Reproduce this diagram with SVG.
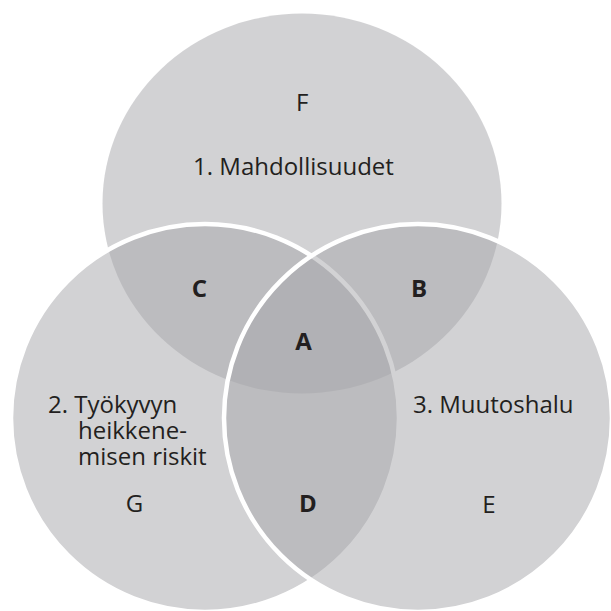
<svg xmlns="http://www.w3.org/2000/svg" width="611" height="611" viewBox="0 0 611 611">
  <style>
    .set { fill: #a6a6aa; fill-opacity: 0.51; }
    .edge { stroke: #ffffff; stroke-width: 4.5; }
    .lbl { font-family: "Open Sans", "Liberation Sans", sans-serif; font-size: 24px; fill: #231f20; }
    .reg { font-family: "Open Sans", "Liberation Sans", sans-serif; font-size: 24px; fill: #231f20; text-anchor: middle; }
    .bold { font-weight: bold; }
  </style>
  <rect width="611" height="611" fill="#ffffff"/>
  <g id="set-1">
    <ellipse class="set" cx="302" cy="203.5" rx="199.5" ry="190"/>
  </g>
  <g id="set-2">
    <circle class="set edge" cx="205" cy="418" r="194"/>
  </g>
  <g id="set-3">
    <circle class="set edge" cx="418" cy="418" r="194"/>
  </g>
  <g id="labels">
    <g id="label-1">
      <text class="reg" x="302.3" y="111">F</text>
      <text class="reg" x="293.5" y="175">1. Mahdollisuudet</text>
    </g>
    <g id="label-2">
      <text class="lbl" x="48" y="413">2. Työkyvyn</text>
      <text class="lbl" x="78" y="439">heikkene-</text>
      <text class="lbl" x="78" y="465">misen riskit</text>
      <text class="reg" x="134.5" y="512">G</text>
    </g>
    <g id="label-3">
      <text class="lbl" x="413" y="412.5">3. Muutoshalu</text>
      <text class="reg" x="489" y="513">E</text>
    </g>
    <g id="region-A"><text class="reg bold" x="303.5" y="350">A</text></g>
    <g id="region-B"><text class="reg bold" x="419" y="297">B</text></g>
    <g id="region-C"><text class="reg bold" x="199.5" y="297">C</text></g>
    <g id="region-D"><text class="reg bold" x="308" y="512">D</text></g>
  </g>
</svg>
